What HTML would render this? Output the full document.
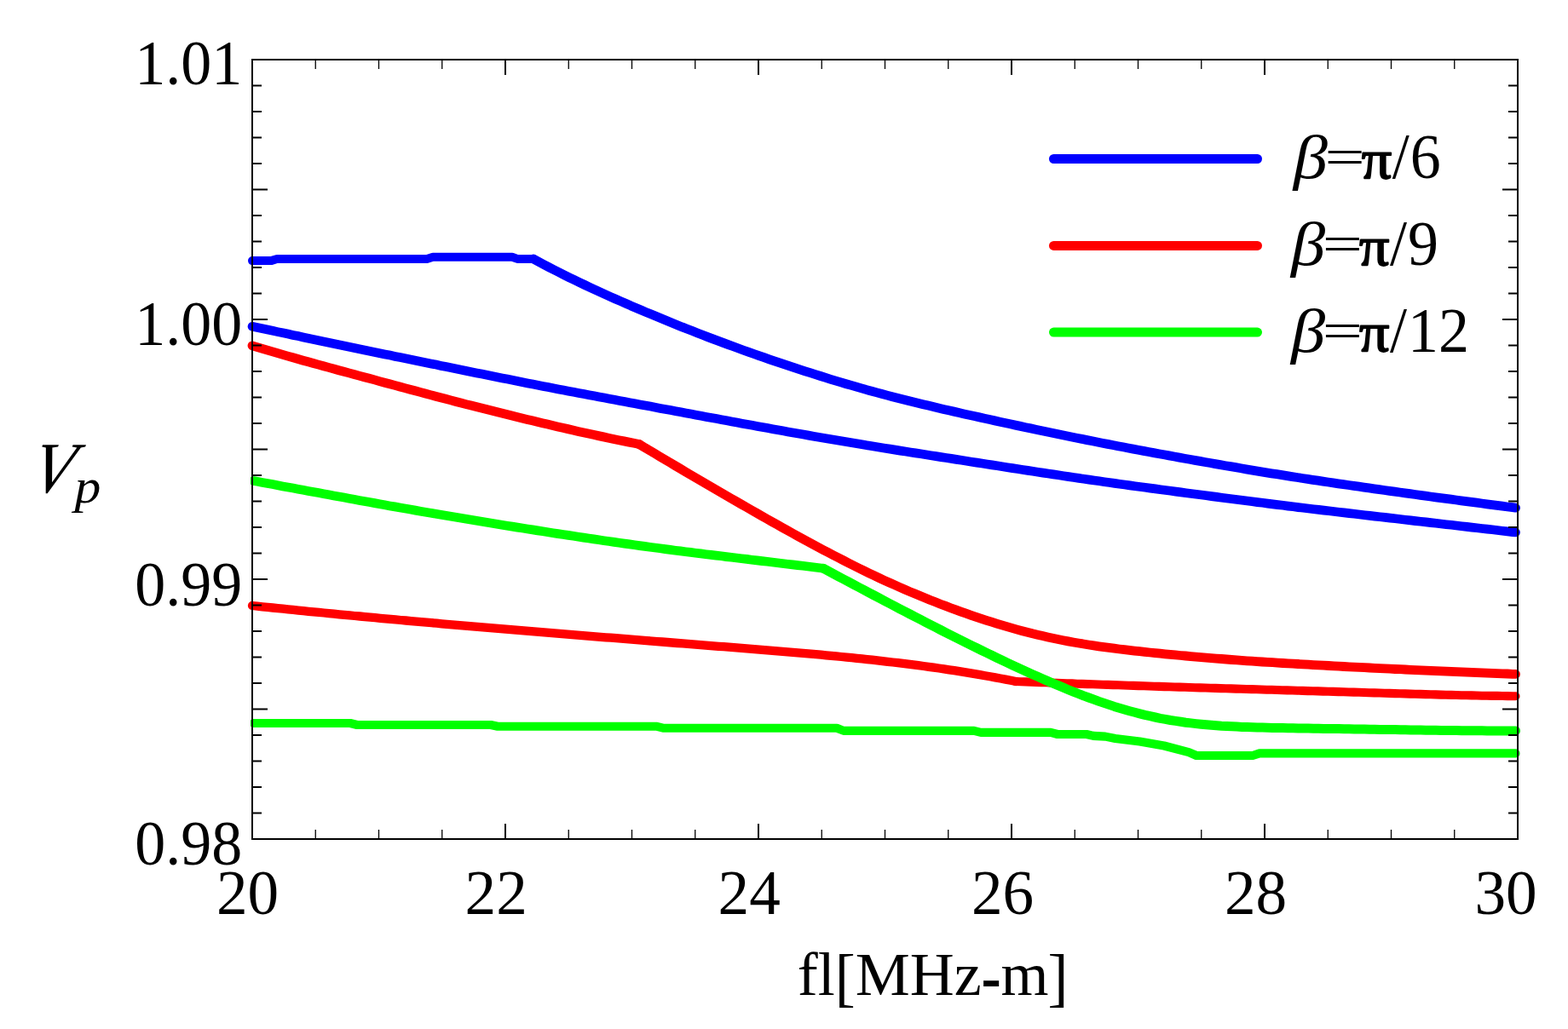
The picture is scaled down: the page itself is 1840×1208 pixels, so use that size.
<!DOCTYPE html>
<html lang="en">
<head>
<meta charset="utf-8">
<title>Vp vs fl[MHz-m]</title>
<style>
html,body{margin:0;padding:0;background:#fff;}
body{width:1840px;height:1208px;overflow:hidden;}
svg{display:block;}
</style>
</head>
<body>
<svg width="1840" height="1208" viewBox="0 0 1840 1208">
<rect width="1840" height="1208" fill="#fff"/>
<defs><clipPath id="ca"><rect x="290" y="60" width="1494" height="940"/></clipPath><clipPath id="cg"><rect x="294" y="60" width="1490" height="940"/></clipPath></defs>
<g fill="none" stroke-linecap="round" stroke-linejoin="round">
<g stroke="#0000ff" clip-path="url(#ca)">
<path stroke-width="10" d="M296.0 306.1 L318.0 306.1 L325.0 304.0 L501.0 304.0 L508.0 301.8 L601.0 301.8 L607.0 303.9 L626.0 303.9"/>
<path stroke-width="10.8" d="M626.0 304.0 L632.0 307.3 L638.0 310.5 L644.0 313.6 L650.1 316.7 L656.1 319.8 L662.1 322.8 L668.1 325.8 L674.1 328.7 L680.1 331.6 L686.2 334.5 L692.2 337.3 L698.2 340.1 L704.2 342.9 L710.2 345.6 L716.2 348.3 L722.2 351.0 L728.3 353.6 L734.3 356.2 L740.3 358.9 L746.3 361.4 L752.3 364.0 L758.3 366.6 L764.4 369.1 L770.4 371.6 L776.4 374.1 L782.4 376.6 L788.4 379.0 L794.4 381.4 L800.5 383.9 L806.5 386.2 L812.5 388.6 L818.5 391.0 L824.5 393.3 L830.5 395.6 L836.5 397.9 L842.6 400.1 L848.6 402.4 L854.6 404.6 L860.6 406.8 L866.6 409.0 L872.6 411.2 L878.7 413.3 L884.7 415.5 L890.7 417.6 L896.7 419.7 L902.7 421.8 L908.7 423.8 L914.8 425.9 L920.8 427.9 L926.8 429.9 L932.8 431.9 L938.8 433.8 L944.8 435.8 L950.8 437.7 L956.9 439.6 L962.9 441.5 L968.9 443.4 L974.9 445.3 L980.9 447.1 L986.9 448.9 L993.0 450.7 L999.0 452.4 L1005.0 454.2 L1011.0 455.9 L1017.0 457.6 L1023.0 459.2 L1029.0 460.9 L1035.1 462.5 L1041.1 464.1 L1047.1 465.7 L1053.1 467.2 L1059.1 468.7 L1065.1 470.3 L1071.2 471.8 L1077.2 473.2 L1083.2 474.7 L1089.2 476.1 L1095.2 477.6 L1101.2 479.0 L1107.2 480.4 L1113.3 481.8 L1119.3 483.1 L1125.3 484.5 L1131.3 485.9 L1137.3 487.2 L1143.3 488.6 L1149.4 489.9 L1155.4 491.2 L1161.4 492.6 L1167.4 493.9 L1173.4 495.2 L1179.4 496.5 L1185.5 497.8 L1191.5 499.1 L1197.5 500.4 L1203.5 501.7 L1209.5 502.9 L1215.5 504.2 L1221.5 505.5 L1227.6 506.8 L1233.6 508.0 L1239.6 509.3 L1245.6 510.5 L1251.6 511.7 L1257.6 513.0 L1263.7 514.2 L1269.7 515.4 L1275.7 516.6 L1281.7 517.8 L1287.7 519.0 L1293.7 520.2 L1299.8 521.4 L1305.8 522.5 L1311.8 523.7 L1317.8 524.8 L1323.8 526.0 L1329.8 527.1 L1335.8 528.3 L1341.9 529.4 L1347.9 530.5 L1353.9 531.6 L1359.9 532.7 L1365.9 533.8 L1371.9 534.9 L1378.0 536.0 L1384.0 537.1 L1390.0 538.2 L1396.0 539.3 L1402.0 540.3 L1408.0 541.4 L1414.0 542.5 L1420.1 543.5 L1426.1 544.6 L1432.1 545.6 L1438.1 546.7 L1444.1 547.7 L1450.1 548.7 L1456.2 549.8 L1462.2 550.8 L1468.2 551.8 L1474.2 552.8 L1480.2 553.8 L1486.2 554.8 L1492.2 555.8 L1498.3 556.7 L1504.3 557.7 L1510.3 558.7 L1516.3 559.6 L1522.3 560.5 L1528.3 561.5 L1534.4 562.4 L1540.4 563.3 L1546.4 564.2 L1552.4 565.1 L1558.4 566.0 L1564.4 566.9 L1570.5 567.8 L1576.5 568.6 L1582.5 569.5 L1588.5 570.4 L1594.5 571.2 L1600.5 572.1 L1606.5 572.9 L1612.6 573.8 L1618.6 574.6 L1624.6 575.5 L1630.6 576.3 L1636.6 577.2 L1642.6 578.0 L1648.7 578.8 L1654.7 579.7 L1660.7 580.5 L1666.7 581.3 L1672.7 582.1 L1678.7 583.0 L1684.8 583.8 L1690.8 584.6 L1696.8 585.4 L1702.8 586.2 L1708.8 587.0 L1714.8 587.8 L1720.8 588.6 L1726.9 589.4 L1732.9 590.2 L1738.9 591.0 L1744.9 591.8 L1750.9 592.6 L1756.9 593.4 L1763.0 594.2 L1769.0 595.0 L1775.0 595.7 L1778.5 596.2"/>
</g>
<g stroke="#0000ff" clip-path="url(#ca)">
<path stroke-width="10.7" d="M296.0 383.3 L302.0 384.5 L308.0 385.8 L314.0 387.1 L320.0 388.3 L325.9 389.6 L331.9 390.8 L337.9 392.1 L343.9 393.4 L349.9 394.6 L355.9 395.9 L361.9 397.2 L367.9 398.4 L373.8 399.7 L379.8 400.9 L385.8 402.2 L391.8 403.5 L397.8 404.7 L403.8 406.0 L409.8 407.2 L415.8 408.5 L421.7 409.7 L427.7 411.0 L433.7 412.2 L439.7 413.4 L445.7 414.7 L451.7 415.9 L457.7 417.1 L463.7 418.4 L469.6 419.6 L475.6 420.8 L481.6 422.0 L487.6 423.3 L493.6 424.5 L499.6 425.7 L505.6 426.9 L511.6 428.1 L517.6 429.4 L523.5 430.6 L529.5 431.8 L535.5 433.0 L541.5 434.2 L547.5 435.5 L553.5 436.7 L559.5 437.9 L565.5 439.1 L571.4 440.3 L577.4 441.5 L583.4 442.7 L589.4 443.9 L595.4 445.1 L601.4 446.3 L607.4 447.5 L613.4 448.7 L619.3 449.9 L625.3 451.1 L631.3 452.2 L637.3 453.4 L643.3 454.6 L649.3 455.7 L655.3 456.9 L661.3 458.0 L667.2 459.2 L673.2 460.3 L679.2 461.4 L685.2 462.6 L691.2 463.7 L697.2 464.8 L703.2 466.0 L709.2 467.1 L715.2 468.2 L721.1 469.3 L727.1 470.4 L733.1 471.6 L739.1 472.7 L745.1 473.8 L751.1 474.9 L757.1 476.0 L763.1 477.1 L769.0 478.2 L775.0 479.4 L781.0 480.5 L787.0 481.6 L793.0 482.7 L799.0 483.8 L805.0 484.9 L811.0 486.0 L816.9 487.2 L822.9 488.3 L828.9 489.4 L834.9 490.5 L840.9 491.6 L846.9 492.7 L852.9 493.8 L858.9 494.9 L864.9 496.1 L870.8 497.2 L876.8 498.3 L882.8 499.3 L888.8 500.4 L894.8 501.5 L900.8 502.6 L906.8 503.7 L912.8 504.8 L918.7 505.8 L924.7 506.9 L930.7 508.0 L936.7 509.0 L942.7 510.1 L948.7 511.1 L954.7 512.2 L960.7 513.2 L966.6 514.2 L972.6 515.3 L978.6 516.3 L984.6 517.3 L990.6 518.3 L996.6 519.3 L1002.6 520.3 L1008.6 521.3 L1014.5 522.3 L1020.5 523.3 L1026.5 524.2 L1032.5 525.2 L1038.5 526.2 L1044.5 527.1 L1050.5 528.1 L1056.5 529.1 L1062.5 530.0 L1068.4 531.0 L1074.4 531.9 L1080.4 532.8 L1086.4 533.8 L1092.4 534.7 L1098.4 535.6 L1104.4 536.6 L1110.4 537.5 L1116.3 538.4 L1122.3 539.4 L1128.3 540.3 L1134.3 541.2 L1140.3 542.2 L1146.3 543.1 L1152.3 544.0 L1158.3 545.0 L1164.2 545.9 L1170.2 546.8 L1176.2 547.7 L1182.2 548.7 L1188.2 549.6 L1194.2 550.5 L1200.2 551.5 L1206.2 552.4 L1212.1 553.3 L1218.1 554.2 L1224.1 555.1 L1230.1 556.0 L1236.1 556.9 L1242.1 557.8 L1248.1 558.7 L1254.1 559.6 L1260.1 560.5 L1266.0 561.4 L1272.0 562.3 L1278.0 563.1 L1284.0 564.0 L1290.0 564.8 L1296.0 565.7 L1302.0 566.5 L1308.0 567.4 L1313.9 568.2 L1319.9 569.0 L1325.9 569.9 L1331.9 570.7 L1337.9 571.5 L1343.9 572.3 L1349.9 573.1 L1355.9 573.9 L1361.8 574.7 L1367.8 575.5 L1373.8 576.3 L1379.8 577.1 L1385.8 577.9 L1391.8 578.7 L1397.8 579.5 L1403.8 580.3 L1409.8 581.0 L1415.7 581.8 L1421.7 582.6 L1427.7 583.4 L1433.7 584.2 L1439.7 585.0 L1445.7 585.7 L1451.7 586.5 L1457.7 587.3 L1463.6 588.0 L1469.6 588.8 L1475.6 589.6 L1481.6 590.3 L1487.6 591.1 L1493.6 591.9 L1499.6 592.6 L1505.6 593.3 L1511.5 594.1 L1517.5 594.8 L1523.5 595.6 L1529.5 596.3 L1535.5 597.0 L1541.5 597.7 L1547.5 598.4 L1553.5 599.1 L1559.4 599.8 L1565.4 600.5 L1571.4 601.2 L1577.4 601.9 L1583.4 602.6 L1589.4 603.3 L1595.4 604.0 L1601.4 604.7 L1607.4 605.4 L1613.3 606.1 L1619.3 606.8 L1625.3 607.4 L1631.3 608.1 L1637.3 608.8 L1643.3 609.5 L1649.3 610.2 L1655.3 610.9 L1661.2 611.6 L1667.2 612.2 L1673.2 612.9 L1679.2 613.6 L1685.2 614.3 L1691.2 615.0 L1697.2 615.7 L1703.2 616.3 L1709.1 617.0 L1715.1 617.7 L1721.1 618.4 L1727.1 619.1 L1733.1 619.8 L1739.1 620.5 L1745.1 621.1 L1751.1 621.8 L1757.0 622.5 L1763.0 623.2 L1769.0 623.9 L1775.0 624.6 L1778.5 625.0"/>
</g>
<g stroke="#ff0000" clip-path="url(#ca)">
<path stroke-width="10.8" d="M296.0 405.8 L302.0 407.6 L307.9 409.4 L313.9 411.2 L319.9 412.9 L325.9 414.7 L331.8 416.4 L337.8 418.1 L343.8 419.8 L349.8 421.5 L355.7 423.2 L361.7 424.8 L367.7 426.5 L373.7 428.1 L379.6 429.8 L385.6 431.4 L391.6 433.0 L397.6 434.7 L403.5 436.3 L409.5 437.9 L415.5 439.5 L421.4 441.1 L427.4 442.7 L433.4 444.3 L439.4 445.9 L445.3 447.6 L451.3 449.2 L457.3 450.8 L463.3 452.4 L469.2 454.0 L475.2 455.6 L481.2 457.2 L487.2 458.8 L493.1 460.4 L499.1 462.0 L505.1 463.6 L511.1 465.2 L517.0 466.8 L523.0 468.3 L529.0 469.9 L534.9 471.5 L540.9 473.0 L546.9 474.6 L552.9 476.1 L558.8 477.6 L564.8 479.1 L570.8 480.6 L576.8 482.1 L582.7 483.6 L588.7 485.1 L594.7 486.6 L600.7 488.1 L606.6 489.5 L612.6 491.0 L618.6 492.4 L624.6 493.8 L630.5 495.3 L636.5 496.7 L642.5 498.1 L648.4 499.5 L654.4 500.9 L660.4 502.3 L666.4 503.6 L672.3 505.0 L678.3 506.4 L684.3 507.7 L690.3 509.0 L696.2 510.3 L702.2 511.6 L708.2 512.9 L714.2 514.2 L720.1 515.5 L726.1 516.7 L732.1 517.9 L738.1 519.1 L744.0 520.3 L750.0 521.5"/>
<path stroke-width="10.8" d="M750.0 521.5 L756.0 525.1 L762.0 528.7 L768.0 532.2 L774.0 535.8 L780.0 539.4 L786.0 542.9 L792.0 546.5 L798.0 550.0 L803.9 553.6 L809.9 557.1 L815.9 560.6 L821.9 564.1 L827.9 567.6 L833.9 571.1 L839.9 574.6 L845.9 578.1 L851.9 581.6 L857.9 585.1 L863.9 588.5 L869.9 592.0 L875.9 595.4 L881.9 598.9 L887.9 602.3 L893.9 605.7 L899.9 609.1 L905.8 612.5 L911.8 615.8 L917.8 619.2 L923.8 622.5 L929.8 625.9 L935.8 629.2 L941.8 632.5 L947.8 635.7 L953.8 639.0 L959.8 642.2 L965.8 645.4 L971.8 648.6 L977.8 651.7 L983.8 654.8 L989.8 657.9 L995.8 661.0 L1001.8 664.0 L1007.8 667.0 L1013.7 669.9 L1019.7 672.8 L1025.7 675.7 L1031.7 678.5 L1037.7 681.3 L1043.7 684.0 L1049.7 686.7 L1055.7 689.4 L1061.7 692.0 L1067.7 694.6 L1073.7 697.1 L1079.7 699.6 L1085.7 702.0 L1091.7 704.5 L1097.7 706.8 L1103.7 709.2 L1109.7 711.4 L1115.6 713.7 L1121.6 715.9 L1127.6 718.1 L1133.6 720.2 L1139.6 722.3 L1145.6 724.3 L1151.6 726.3 L1157.6 728.3 L1163.6 730.2 L1169.6 732.1 L1175.6 733.9 L1181.6 735.7 L1187.6 737.4 L1193.6 739.1 L1199.6 740.7 L1205.6 742.2 L1211.6 743.8 L1217.5 745.2 L1223.5 746.6 L1229.5 748.0 L1235.5 749.3 L1241.5 750.5 L1247.5 751.7 L1253.5 752.9 L1259.5 754.0 L1265.5 755.0 L1271.5 756.0 L1277.5 757.0 L1283.5 757.9 L1289.5 758.8 L1295.5 759.6 L1301.5 760.4 L1307.5 761.2 L1313.5 762.0 L1319.4 762.7 L1325.4 763.4 L1331.4 764.1 L1337.4 764.7 L1343.4 765.4 L1349.4 766.0 L1355.4 766.6 L1361.4 767.2 L1367.4 767.8 L1373.4 768.4 L1379.4 768.9 L1385.4 769.5 L1391.4 770.0 L1397.4 770.6 L1403.4 771.1 L1409.4 771.6 L1415.4 772.1 L1421.3 772.6 L1427.3 773.1 L1433.3 773.5 L1439.3 774.0 L1445.3 774.5 L1451.3 774.9 L1457.3 775.3 L1463.3 775.8 L1469.3 776.2 L1475.3 776.6 L1481.3 777.0 L1487.3 777.4 L1493.3 777.7 L1499.3 778.1 L1505.3 778.5 L1511.3 778.8 L1517.3 779.2 L1523.2 779.5 L1529.2 779.9 L1535.2 780.2 L1541.2 780.6 L1547.2 780.9 L1553.2 781.2 L1559.2 781.5 L1565.2 781.9 L1571.2 782.2 L1577.2 782.5 L1583.2 782.8 L1589.2 783.1 L1595.2 783.4 L1601.2 783.7 L1607.2 784.0 L1613.2 784.3 L1619.2 784.6 L1625.2 784.9 L1631.1 785.2 L1637.1 785.5 L1643.1 785.7 L1649.1 786.0 L1655.1 786.3 L1661.1 786.6 L1667.1 786.9 L1673.1 787.1 L1679.1 787.4 L1685.1 787.7 L1691.1 787.9 L1697.1 788.2 L1703.1 788.4 L1709.1 788.7 L1715.1 788.9 L1721.1 789.2 L1727.1 789.4 L1733.0 789.6 L1739.0 789.9 L1745.0 790.1 L1751.0 790.4 L1757.0 790.6 L1763.0 790.8 L1769.0 791.0 L1775.0 791.3 L1778.5 791.4"/>
</g>
<g stroke="#ff0000" clip-path="url(#ca)">
<path stroke-width="10.3" d="M296.0 711.0 L302.0 711.6 L308.0 712.3 L314.0 712.9 L320.1 713.5 L326.1 714.1 L332.1 714.7 L338.1 715.3 L344.1 715.9 L350.1 716.6 L356.1 717.2 L362.1 717.8 L368.2 718.3 L374.2 718.9 L380.2 719.5 L386.2 720.1 L392.2 720.7 L398.2 721.3 L404.2 721.8 L410.3 722.4 L416.3 723.0 L422.3 723.5 L428.3 724.1 L434.3 724.7 L440.3 725.2 L446.3 725.8 L452.3 726.3 L458.4 726.9 L464.4 727.4 L470.4 728.0 L476.4 728.5 L482.4 729.1 L488.4 729.6 L494.4 730.1 L500.5 730.7 L506.5 731.2 L512.5 731.7 L518.5 732.3 L524.5 732.8 L530.5 733.3 L536.5 733.8 L542.6 734.3 L548.6 734.9 L554.6 735.4 L560.6 735.9 L566.6 736.4 L572.6 736.9 L578.6 737.4 L584.6 737.9 L590.7 738.4 L596.7 738.9 L602.7 739.4 L608.7 739.9 L614.7 740.4 L620.7 740.9 L626.7 741.4 L632.8 741.9 L638.8 742.4 L644.8 742.9 L650.8 743.4 L656.8 743.9 L662.8 744.4 L668.8 744.9 L674.8 745.4 L680.9 745.8 L686.9 746.3 L692.9 746.8 L698.9 747.3 L704.9 747.8 L710.9 748.3 L716.9 748.7 L723.0 749.2 L729.0 749.7 L735.0 750.2 L741.0 750.7 L747.0 751.1 L753.0 751.6 L759.0 752.1 L765.0 752.6 L771.1 753.1 L777.1 753.5 L783.1 754.0 L789.1 754.5 L795.1 755.0 L801.1 755.4 L807.1 755.9 L813.2 756.4 L819.2 756.9 L825.2 757.3 L831.2 757.8 L837.2 758.3 L843.2 758.8 L849.2 759.2 L855.2 759.7 L861.3 760.2 L867.3 760.7 L873.3 761.2 L879.3 761.6 L885.3 762.1 L891.3 762.6 L897.3 763.1 L903.4 763.6 L909.4 764.1 L915.4 764.6 L921.4 765.1 L927.4 765.6 L933.4 766.1 L939.4 766.6 L945.4 767.1 L951.5 767.7 L957.5 768.2 L963.5 768.7 L969.5 769.3 L975.5 769.9 L981.5 770.4 L987.5 771.0 L993.6 771.6 L999.6 772.2 L1005.6 772.8 L1011.6 773.4 L1017.6 774.1 L1023.6 774.7 L1029.6 775.4 L1035.7 776.1 L1041.7 776.8 L1047.7 777.5 L1053.7 778.2 L1059.7 778.9 L1065.7 779.7 L1071.7 780.4 L1077.7 781.2 L1083.8 782.0 L1089.8 782.8 L1095.8 783.7 L1101.8 784.5 L1107.8 785.4 L1113.8 786.3 L1119.8 787.2 L1125.9 788.2 L1131.9 789.1 L1137.9 790.1 L1143.9 791.1 L1149.9 792.1 L1155.9 793.2 L1161.9 794.3 L1167.9 795.4 L1174.0 796.5 L1180.0 797.6 L1186.0 798.8 L1192.0 800.0"/>
<path stroke-width="10.1" d="M1192.0 800.0 L1198.0 800.2 L1204.0 800.4 L1210.0 800.7 L1216.0 800.9 L1222.1 801.1 L1228.1 801.3 L1234.1 801.6 L1240.1 801.8 L1246.1 802.0 L1252.1 802.2 L1258.1 802.4 L1264.1 802.7 L1270.1 802.9 L1276.1 803.1 L1282.2 803.3 L1288.2 803.5 L1294.2 803.7 L1300.2 803.9 L1306.2 804.1 L1312.2 804.3 L1318.2 804.5 L1324.2 804.7 L1330.2 804.9 L1336.2 805.1 L1342.3 805.3 L1348.3 805.5 L1354.3 805.7 L1360.3 805.9 L1366.3 806.1 L1372.3 806.3 L1378.3 806.5 L1384.3 806.6 L1390.3 806.8 L1396.3 807.0 L1402.4 807.2 L1408.4 807.4 L1414.4 807.5 L1420.4 807.7 L1426.4 807.9 L1432.4 808.1 L1438.4 808.2 L1444.4 808.4 L1450.4 808.6 L1456.4 808.8 L1462.5 809.0 L1468.5 809.1 L1474.5 809.3 L1480.5 809.5 L1486.5 809.7 L1492.5 809.8 L1498.5 810.0 L1504.5 810.2 L1510.5 810.4 L1516.6 810.5 L1522.6 810.7 L1528.6 810.9 L1534.6 811.1 L1540.6 811.2 L1546.6 811.4 L1552.6 811.6 L1558.6 811.8 L1564.6 811.9 L1570.6 812.1 L1576.7 812.3 L1582.7 812.5 L1588.7 812.6 L1594.7 812.8 L1600.7 813.0 L1606.7 813.2 L1612.7 813.4 L1618.7 813.5 L1624.7 813.7 L1630.7 813.9 L1636.8 814.1 L1642.8 814.2 L1648.8 814.4 L1654.8 814.6 L1660.8 814.8 L1666.8 814.9 L1672.8 815.1 L1678.8 815.3 L1684.8 815.4 L1690.8 815.6 L1696.9 815.7 L1702.9 815.9 L1708.9 816.0 L1714.9 816.2 L1720.9 816.3 L1726.9 816.4 L1732.9 816.5 L1738.9 816.7 L1744.9 816.8 L1750.9 816.9 L1757.0 816.9 L1763.0 817.0 L1769.0 817.1 L1775.0 817.2 L1778.5 817.2"/>
</g>
<g stroke="#00ff00" clip-path="url(#cg)">
<path stroke-width="10.7" d="M297.6 564.5 L302.0 565.3 L308.0 566.4 L313.9 567.5 L319.9 568.6 L325.9 569.8 L331.9 570.9 L337.9 572.0 L343.9 573.1 L349.8 574.2 L355.8 575.3 L361.8 576.4 L367.8 577.5 L373.8 578.6 L379.8 579.7 L385.7 580.8 L391.7 581.9 L397.7 583.0 L403.7 584.1 L409.7 585.2 L415.6 586.3 L421.6 587.4 L427.6 588.5 L433.6 589.6 L439.6 590.6 L445.6 591.7 L451.5 592.8 L457.5 593.9 L463.5 594.9 L469.5 596.0 L475.5 597.0 L481.4 598.1 L487.4 599.1 L493.4 600.2 L499.4 601.2 L505.4 602.2 L511.4 603.3 L517.3 604.3 L523.3 605.3 L529.3 606.3 L535.3 607.3 L541.3 608.3 L547.2 609.3 L553.2 610.3 L559.2 611.3 L565.2 612.3 L571.2 613.3 L577.2 614.2 L583.1 615.2 L589.1 616.2 L595.1 617.2 L601.1 618.1 L607.1 619.1 L613.1 620.0 L619.0 621.0 L625.0 621.9 L631.0 622.9 L637.0 623.8 L643.0 624.7 L648.9 625.7 L654.9 626.6 L660.9 627.5 L666.9 628.4 L672.9 629.3 L678.9 630.2 L684.8 631.1 L690.8 632.0 L696.8 632.9 L702.8 633.8 L708.8 634.7 L714.8 635.5 L720.7 636.4 L726.7 637.3 L732.7 638.1 L738.7 638.9 L744.7 639.8 L750.6 640.6 L756.6 641.4 L762.6 642.2 L768.6 643.0 L774.6 643.8 L780.6 644.6 L786.5 645.4 L792.5 646.2 L798.5 646.9 L804.5 647.7 L810.5 648.4 L816.4 649.2 L822.4 649.9 L828.4 650.7 L834.4 651.4 L840.4 652.1 L846.4 652.8 L852.3 653.6 L858.3 654.3 L864.3 655.0 L870.3 655.7 L876.3 656.4 L882.2 657.2 L888.2 657.9 L894.2 658.6 L900.2 659.3 L906.2 660.0 L912.2 660.7 L918.1 661.5 L924.1 662.2 L930.1 662.9 L936.1 663.6 L942.1 664.3 L948.1 665.0 L954.0 665.8 L960.0 666.5 L966.0 667.2"/>
<path stroke-width="11" d="M966.0 667.2 L972.0 670.4 L978.0 673.6 L984.0 676.8 L990.0 680.0 L996.0 683.2 L1002.0 686.4 L1007.9 689.5 L1013.9 692.7 L1019.9 695.9 L1025.9 699.0 L1031.9 702.2 L1037.9 705.3 L1043.9 708.5 L1049.9 711.6 L1055.9 714.8 L1061.9 717.9 L1067.9 721.0 L1073.9 724.1 L1079.9 727.2 L1085.9 730.3 L1091.8 733.4 L1097.8 736.4 L1103.8 739.5 L1109.8 742.6 L1115.8 745.6 L1121.8 748.6 L1127.8 751.6 L1133.8 754.6 L1139.8 757.6 L1145.8 760.5 L1151.8 763.5 L1157.8 766.4 L1163.8 769.3 L1169.8 772.2 L1175.7 775.0 L1181.7 777.9 L1187.7 780.7 L1193.7 783.5 L1199.7 786.2 L1205.7 789.0 L1211.7 791.7 L1217.7 794.3 L1223.7 797.0 L1229.7 799.6 L1235.7 802.2 L1241.7 804.7 L1247.7 807.2 L1253.6 809.7 L1259.6 812.1 L1265.6 814.5 L1271.6 816.8 L1277.6 819.0 L1283.6 821.2 L1289.6 823.4 L1295.6 825.4 L1301.6 827.4 L1307.6 829.4 L1313.6 831.2 L1319.6 833.0 L1325.6 834.7 L1331.6 836.3 L1337.5 837.9 L1343.5 839.4 L1349.5 840.7 L1355.5 842.0 L1361.5 843.3 L1367.5 844.4 L1373.5 845.5 L1379.5 846.4 L1385.5 847.3 L1391.5 848.2 L1397.5 848.9 L1403.5 849.6 L1409.5 850.2 L1415.4 850.8 L1421.4 851.3 L1427.4 851.7 L1433.4 852.2 L1439.4 852.5 L1445.4 852.8 L1451.4 853.1 L1457.4 853.4 L1463.4 853.6 L1469.4 853.8 L1475.4 854.0 L1481.4 854.1 L1487.4 854.2 L1493.4 854.4 L1499.3 854.5 L1505.3 854.6 L1511.3 854.7 L1517.3 854.8 L1523.3 854.9 L1529.3 855.0 L1535.3 855.1 L1541.3 855.2 L1547.3 855.3 L1553.3 855.4 L1559.3 855.5 L1565.3 855.6 L1571.3 855.6 L1577.2 855.7 L1583.2 855.8 L1589.2 855.9 L1595.2 856.0 L1601.2 856.1 L1607.2 856.2 L1613.2 856.3 L1619.2 856.4 L1625.2 856.5 L1631.2 856.6 L1637.2 856.6 L1643.2 856.7 L1649.2 856.8 L1655.2 856.9 L1661.1 857.0 L1667.1 857.1 L1673.1 857.2 L1679.1 857.3 L1685.1 857.3 L1691.1 857.4 L1697.1 857.5 L1703.1 857.5 L1709.1 857.6 L1715.1 857.7 L1721.1 857.7 L1727.1 857.8 L1733.1 857.8 L1739.1 857.8 L1745.0 857.9 L1751.0 857.9 L1757.0 857.9 L1763.0 857.9 L1769.0 857.9 L1775.0 857.9 L1778.5 857.9"/>
</g>
<g stroke="#00ff00" clip-path="url(#cg)">
<path stroke-width="10.1" d="M297.6 849.0 L411.0 849.0 L419.0 851.0 L576.0 851.0 L584.0 852.8 L771.0 852.8 L779.0 854.8 L982.0 854.8 L990.0 857.9 L1143.0 857.9 L1151.0 859.9 L1233.0 859.9 L1241.0 862.0 L1275.0 862.0 L1283.0 863.9 L1297.0 864.6 L1308.8 867.0 L1337.5 870.5 L1366.0 875.5 L1395.0 883.1 L1404.0 887.0 L1470.0 887.0 L1478.0 884.4 L1778.5 884.4"/>
</g>
</g>
<g stroke="#000" fill="none">
<rect x="296" y="70" width="1485" height="915" stroke-width="2" shape-rendering="crispEdges"/>
<path stroke-width="2" d="M297 100.5 h10 M1780 100.5 h-10 M297 131 h10 M1780 131 h-10 M297 161.5 h10 M1780 161.5 h-10 M297 192 h10 M1780 192 h-10 M297 222.5 h17 M1780 222.5 h-17 M297 253 h10 M1780 253 h-10 M297 283.5 h10 M1780 283.5 h-10 M297 314 h10 M1780 314 h-10 M297 344.5 h10 M1780 344.5 h-10 M297 375 h17 M1780 375 h-17 M297 405.5 h10 M1780 405.5 h-10 M297 436 h10 M1780 436 h-10 M297 466.5 h10 M1780 466.5 h-10 M297 497 h10 M1780 497 h-10 M297 527.5 h17 M1780 527.5 h-17 M297 558 h10 M1780 558 h-10 M297 588.5 h10 M1780 588.5 h-10 M297 619 h10 M1780 619 h-10 M297 649.5 h10 M1780 649.5 h-10 M297 680 h17 M1780 680 h-17 M297 710.5 h10 M1780 710.5 h-10 M297 741 h10 M1780 741 h-10 M297 771.5 h10 M1780 771.5 h-10 M297 802 h10 M1780 802 h-10 M297 832.5 h17 M1780 832.5 h-17 M297 863 h10 M1780 863 h-10 M297 893.5 h10 M1780 893.5 h-10 M297 924 h10 M1780 924 h-10 M297 954.5 h10 M1780 954.5 h-10"/>
<path stroke-width="1.3" d="M370.25 71 v10 M370.25 984 v-10 M444.5 71 v10 M444.5 984 v-10 M518.75 71 v10 M518.75 984 v-10 M667.25 71 v10 M667.25 984 v-10 M741.5 71 v10 M741.5 984 v-10 M815.75 71 v10 M815.75 984 v-10 M964.25 71 v10 M964.25 984 v-10 M1038.5 71 v10 M1038.5 984 v-10 M1112.75 71 v10 M1112.75 984 v-10 M1261.25 71 v10 M1261.25 984 v-10 M1335.5 71 v10 M1335.5 984 v-10 M1409.75 71 v10 M1409.75 984 v-10 M1558.25 71 v10 M1558.25 984 v-10 M1632.5 71 v10 M1632.5 984 v-10 M1706.75 71 v10 M1706.75 984 v-10"/>
<path stroke-width="2" d="M593 71 v17 M593 984 v-17 M890 71 v17 M890 984 v-17 M1187 71 v17 M1187 984 v-17 M1484 71 v17 M1484 984 v-17"/>
</g>
<g font-family="'Liberation Serif', 'Times New Roman', serif" font-size="72" fill="#000">
<text transform="translate(158.30 99.30) scale(1.0000 1.0250)" font-size="72">1.01</text>
<text transform="translate(158.30 404.90) scale(1.0000 1.0250)" font-size="72">1.00</text>
<text transform="translate(158.30 711.20) scale(1.0000 1.0250)" font-size="72">0.99</text>
<text transform="translate(158.30 1015.30) scale(1.0000 1.0250)" font-size="72">0.98</text>
<text transform="translate(253.90 1072.50) scale(1.0180 1.0250)" font-size="72">20</text>
<text transform="translate(545.60 1072.50) scale(1.0180 1.0250)" font-size="72">22</text>
<text transform="translate(842.60 1072.50) scale(1.0180 1.0250)" font-size="72">24</text>
<text transform="translate(1139.90 1072.50) scale(1.0180 1.0250)" font-size="72">26</text>
<text transform="translate(1436.90 1072.50) scale(1.0180 1.0250)" font-size="72">28</text>
<text transform="translate(1730.40 1072.50) scale(1.0180 1.0250)" font-size="72">30</text>
<g><text transform="translate(935.70 1168.40) scale(1.0000 1.0000)" font-size="72">fl</text><text transform="translate(979.68 1172.68) scale(1.0000 1.0505)" font-size="72">[</text><text transform="translate(1003.65 1168.40) scale(1.0000 1.0100)" font-size="72">MHz</text><text transform="translate(1151.61 1176.04) scale(0.9678 1.2642)" font-size="72">-</text><text transform="translate(1174.60 1168.40) scale(1.0000 1.0000)" font-size="72">m</text><text transform="translate(1229.41 1172.68) scale(1.0000 1.0505)" font-size="72">]</text></g>
<g><text transform="translate(33.71 577.51) skewX(-12) scale(0.9327 1.0147)" font-size="84" font-style="italic">V</text><text transform="translate(87.62 590.45) scale(1.0458 0.9514)" font-size="59" font-style="italic">p</text></g>
<g><text transform="translate(1517.75 208.86) scale(1.1175 0.9845)" font-size="72" font-style="italic">β</text><text transform="translate(1554.53 204.89) scale(1.1640 0.8444)" font-size="72">=</text><text stroke="#000" stroke-width="1.9" stroke-linejoin="round" transform="translate(1597.64 208.65) scale(0.9759 0.9244)" font-size="72">π</text><text transform="translate(1633.70 209.46) scale(0.9998 1.0568)" font-size="72">/</text><text transform="translate(1654.70 209.40) scale(1.0000 1.0250)" font-size="72">6</text></g>
<g><text transform="translate(1515.05 310.86) scale(1.1175 0.9845)" font-size="72" font-style="italic">β</text><text transform="translate(1551.83 306.89) scale(1.1640 0.8444)" font-size="72">=</text><text stroke="#000" stroke-width="1.9" stroke-linejoin="round" transform="translate(1594.94 310.65) scale(0.9759 0.9244)" font-size="72">π</text><text transform="translate(1631.00 311.46) scale(0.9998 1.0568)" font-size="72">/</text><text transform="translate(1652.00 311.40) scale(1.0000 1.0250)" font-size="72">9</text></g>
<g><text transform="translate(1515.05 412.66) scale(1.1175 0.9845)" font-size="72" font-style="italic">β</text><text transform="translate(1551.83 408.69) scale(1.1640 0.8444)" font-size="72">=</text><text stroke="#000" stroke-width="1.9" stroke-linejoin="round" transform="translate(1594.94 412.45) scale(0.9759 0.9244)" font-size="72">π</text><text transform="translate(1631.00 413.26) scale(0.9998 1.0568)" font-size="72">/</text><text transform="translate(1652.00 413.20) scale(1.0000 1.0250)" font-size="72">12</text></g>
</g>
<g fill="none" stroke-width="11" stroke-linecap="round">
<path stroke="#0000ff" d="M1236.5 186.5 H1475.5"/>
<path stroke="#ff0000" d="M1236.5 288.4 H1475.5"/>
<path stroke="#00ff00" d="M1236.5 390.1 H1475.5"/>
</g>
</svg>
</body>
</html>
